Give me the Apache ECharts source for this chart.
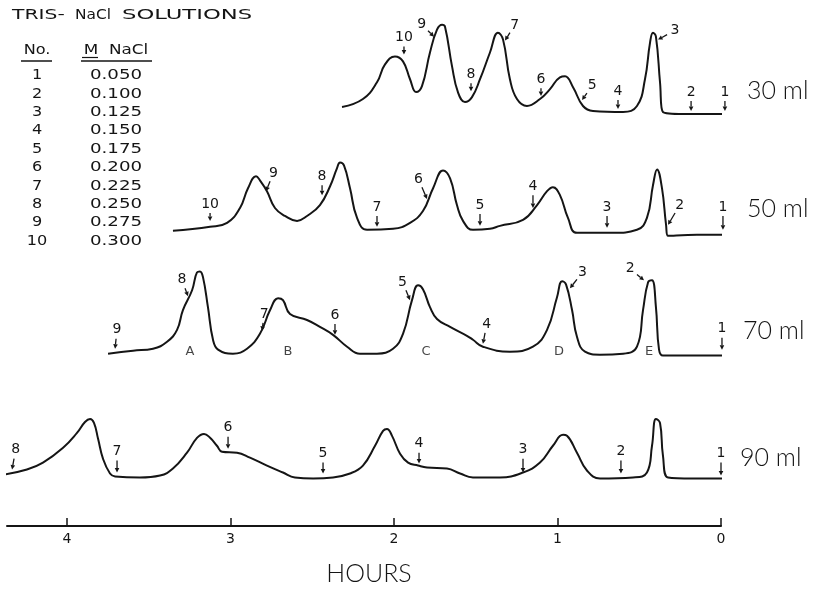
<!DOCTYPE html>
<html><head><meta charset="utf-8">
<script src="https://cdn.jsdelivr.net/npm/echarts@6/dist/echarts.min.js"></script>
<style>html,body{margin:0;padding:0;background:#fff}#c{width:820px;height:591px}</style>
</head><body><div id="c"></div>
<script>
// ---- data ----
const hourTicks = [0, 1, 2, 3, 4];
const solutionNo = ['1','2','3','4','5','6','7','8','9','10'];
const molarNaCl = ['0.050','0.100','0.125','0.150','0.175','0.200','0.225','0.250','0.275','0.300'];
const traceNames = ['30 ml', '50 ml', '70 ml', '90 ml'];

const hours30 = [2.318,2.190,2.104,2.055,1.994,1.945,1.902,1.865,1.829,1.780,1.737,1.706,1.688,1.645,1.609,1.566,1.523,1.474,1.413,1.364,1.333,1.291,1.248,1.187,1.107,1.046,0.985,0.954,0.905,0.844,0.783,0.599,0.514,0.465,0.434,0.416,0.398,0.373,0.355,0.232,-0.024];
const signal30 = [6,14,31,49,57,52,34,21,27,61,84,89,87,47,21,11,16,34,61,81,74,34,14,7,14,24,36,37,26,7,2,1,7,34,71,81,77,31,1,-1,-1];

const hours50 = [3.352,3.125,3.021,2.942,2.893,2.844,2.820,2.777,2.728,2.667,2.593,2.532,2.453,2.391,2.349,2.330,2.306,2.269,2.226,2.165,2.006,1.902,1.823,1.761,1.700,1.657,1.615,1.578,1.517,1.413,1.352,1.211,1.125,1.064,1.028,0.985,0.936,0.881,0.661,0.514,0.453,0.416,0.391,0.361,0.336,0.324,0.147,-0.012];
const signal50 = [4,8,12,27,47,59,55,44,27,19,14,19,30,49,67,73,70,47,17,5,6,12,24,47,65,57,30,14,5,6,9,15,30,44,48,40,17,2,2,5,17,50,66,47,10,-1,0,0];

const hours70 = [3.749,3.596,3.474,3.388,3.327,3.291,3.235,3.205,3.187,3.168,3.138,3.107,3.076,2.985,2.899,2.820,2.758,2.709,2.679,2.636,2.532,2.453,2.373,2.287,2.208,2.104,2.006,1.945,1.890,1.853,1.823,1.780,1.737,1.657,1.554,1.517,1.456,1.291,1.150,1.064,1.003,0.972,0.948,0.911,0.881,0.832,0.740,0.599,0.514,0.477,0.446,0.422,0.398,0.379,0.355,0.171,-0.006];
const signal70 = [2,5,7,14,26,46,66,84,85,79,49,16,6,2,7,22,46,58,56,42,36,29,21,9,2,2,7,22,56,71,67,49,37,29,20,16,9,4,9,26,59,75,72,46,19,4,1,2,9,46,74,76,49,6,0,0,0];

const hours90 = [4.385,4.245,4.147,4.024,3.939,3.890,3.859,3.835,3.810,3.780,3.737,3.706,3.554,3.431,3.352,3.266,3.205,3.162,3.125,3.083,3.052,2.960,2.881,2.777,2.679,2.606,2.495,2.373,2.269,2.190,2.116,2.067,2.043,2.012,1.963,1.914,1.853,1.798,1.676,1.596,1.517,1.352,1.211,1.107,1.028,0.966,0.942,0.881,0.820,0.740,0.538,0.453,0.422,0.398,0.373,0.355,0.324,0.171,-0.006];
const signal90 = [4,9,16,31,46,57,60,56,40,20,5,2,1,3,10,26,41,45,41,33,27,26,21,13,6,1,0,1,5,13,33,48,50,43,25,16,13,11,10,5,1,1,6,16,33,44,43,26,8,0,1,6,33,60,56,23,1,0,0];

// solution-change arrows: [label, tipHour, tipSignal, tailHour, tailSignal]
const marks30 = [['10',1.939,59,1.939,67],['9',1.755,77,1.792,83],['8',1.529,22,1.529,30],['7',1.321,73,1.291,81],['6',1.101,17,1.101,25],['5',0.850,13,0.820,20],['4',0.630,4,0.630,13],['3',0.385,74,0.330,79],['2',0.183,2,0.183,12],['1',-0.024,2,-0.024,12]];
const marks50 = [['10',3.125,14,3.125,22],['9',2.783,44,2.758,54],['8',2.440,40,2.440,50],['7',2.104,8,2.104,19],['6',1.798,36,1.829,48],['5',1.474,9,1.474,21],['4',1.150,27,1.150,40],['3',0.697,7,0.697,19],['2',0.324,10,0.281,22],['1',-0.012,5,-0.012,19]];
const marks70 = [['9',3.706,7,3.700,17],['8',3.260,60,3.278,68],['7',2.807,25,2.801,33],['6',2.361,21,2.361,32],['5',1.902,56,1.927,66],['4',1.456,12,1.443,23],['3',0.924,68,0.881,77],['2',0.471,76,0.514,82],['1',-0.006,6,-0.006,18]];
const marks90 = [['8',4.336,9,4.324,20],['7',3.694,6,3.694,18],['6',3.015,30,3.015,42],['5',2.434,5,2.434,16],['4',1.847,15,1.847,26],['3',1.211,6,1.211,20],['2',0.612,5,0.612,18],['1',0,3,0,16]];
const peakLetters70 = [['A',3.248],['B',2.648],['C',1.804],['D',0.991],['E',0.440]];

// ---- layout ----
const INK = '#151515';
const baseOffsets = [417, 294, 172, 48];
const traceHours = [hours30, hours50, hours70, hours90];
const traceSignals = [signal30, signal50, signal70, signal90];
const traceMarks = [marks30, marks50, marks70, marks90];
const traceLabelPos = [[747, 91], [747, 209], [743, 331], [740, 458]];

function arrowRenderer(labels) {
  return function (params, api) {
    const tip = api.coord([api.value(0), api.value(1)]);
    const tail = api.coord([api.value(2), api.value(3)]);
    const dx = tip[0] - tail[0], dy = tip[1] - tail[1];
    const L = Math.hypot(dx, dy) || 1;
    const ux = dx / L, uy = dy / L;
    const head = 4.5, hw = 2.3;
    const bx = tip[0] - ux * head, by = tip[1] - uy * head;
    const lx = tail[0] - ux * 9, ly = tail[1] - uy * 9;
    return {
      type: 'group',
      children: [
        { type: 'line', shape: { x1: tail[0], y1: tail[1], x2: bx, y2: by }, style: { stroke: INK, lineWidth: 1.3 } },
        { type: 'polygon', shape: { points: [[tip[0], tip[1]], [bx - uy * hw, by + ux * hw], [bx + uy * hw, by - ux * hw]] }, style: { fill: INK } },
        { type: 'text', x: lx, y: ly, style: { text: labels[params.dataIndex], font: '14px "DejaVu Sans"', fill: INK, align: 'center', verticalAlign: 'middle' } }
      ]
    };
  };
}

const series = [];
traceNames.forEach((name, i) => {
  const off = baseOffsets[i];
  series.push({
    type: 'line', name: name, clip: false, showSymbol: false, smooth: 0.45,
    lineStyle: { color: INK, width: 2 }, silent: true,
    data: traceHours[i].map((h, j) => [h, traceSignals[i][j] + off])
  });
  const marks = traceMarks[i];
  series.push({
    type: 'custom', name: name + ' solutions', clip: false, silent: true,
    encode: { x: [0, 2], y: [1, 3] },
    renderItem: arrowRenderer(marks.map(m => m[0])),
    data: marks.map(m => [m[1], m[2] + off, m[3], m[4] + off])
  });
});
series.push({
  type: 'scatter', name: 'peaks', symbolSize: 0, silent: true, clip: false,
  label: { show: true, position: 'inside', formatter: p => p.data[2], color: INK, fontSize: 13, fontFamily: 'DejaVu Sans' },
  data: peakLetters70.map(p => [p[1], 4 + baseOffsets[2], p[0]])
});

// ---- graphics: header, table, trace labels ----
const graphic = [];
const hdrFont = '14px "DejaVu Sans"';
graphic.push({ type: 'text', x: 12, y: 15, scaleX: 1.45, style: { text: 'TRIS-', font: hdrFont, fill: INK, verticalAlign: 'middle' } });
graphic.push({ type: 'text', x: 75, y: 15, scaleX: 1.1, style: { text: 'NaCl', font: hdrFont, fill: INK, verticalAlign: 'middle' } });
graphic.push({ type: 'text', x: 122, y: 15, scaleX: 1.62, style: { text: 'SOLUTIONS', font: hdrFont, fill: INK, verticalAlign: 'middle' } });
graphic.push({ type: 'text', x: 37, y: 50, scaleX: 1.15, style: { text: 'No.', font: hdrFont, fill: INK, align: 'center', verticalAlign: 'middle' } });
graphic.push({ type: 'text', x: 116, y: 50, scaleX: 1.2, style: { text: 'M  NaCl', font: hdrFont, fill: INK, align: 'center', verticalAlign: 'middle' } });
graphic.push({ type: 'line', shape: { x1: 21, y1: 61, x2: 52, y2: 61 }, style: { stroke: INK, lineWidth: 1.5 } });
graphic.push({ type: 'line', shape: { x1: 81, y1: 61, x2: 152, y2: 61 }, style: { stroke: INK, lineWidth: 1.5 } });
graphic.push({ type: 'line', shape: { x1: 82, y1: 57.5, x2: 98, y2: 57.5 }, style: { stroke: INK, lineWidth: 1.2 } });
solutionNo.forEach((n, i) => {
  const y = 75.5 + i * 18.4;
  graphic.push({ type: 'text', x: 37, y: y, scaleX: 1.15, style: { text: n, font: hdrFont, fill: INK, align: 'center', verticalAlign: 'middle' } });
  graphic.push({ type: 'text', x: 116, y: y, scaleX: 1.3, style: { text: molarNaCl[i], font: hdrFont, fill: INK, align: 'center', verticalAlign: 'middle' } });
});
traceNames.forEach((name, i) => {
  graphic.push({ type: 'text', x: traceLabelPos[i][0], y: traceLabelPos[i][1], style: { text: name, font: '300 25px Lato', fill: INK, verticalAlign: 'middle' } });
});

const chart = echarts.init(document.getElementById('c'), null, { renderer: 'canvas' });
chart.setOption({
  backgroundColor: '#ffffff',
  animation: false,
  grid: { left: 7, right: 99, top: 0, bottom: 60, containLabel: false },
  xAxis: {
    type: 'value', inverse: true, min: 0, max: 4.367, interval: 1,
    axisLine: { show: true, onZero: false, lineStyle: { color: INK, width: 2 } },
    axisTick: { show: true, inside: true, length: 8, customValues: hourTicks, lineStyle: { color: INK, width: 1.5 } },
    axisLabel: { customValues: hourTicks, color: INK, fontSize: 14, fontFamily: 'DejaVu Sans', margin: 6 },
    splitLine: { show: false },
    name: 'HOURS', nameLocation: 'middle', nameGap: 35,
    nameTextStyle: { color: INK, fontSize: 25, fontFamily: 'Lato', fontWeight: 300, padding: [0, 0, 0, 10] }
  },
  yAxis: { type: 'value', min: 0, max: 531, show: false },
  graphic: graphic,
  series: series
});
</script></body></html>
